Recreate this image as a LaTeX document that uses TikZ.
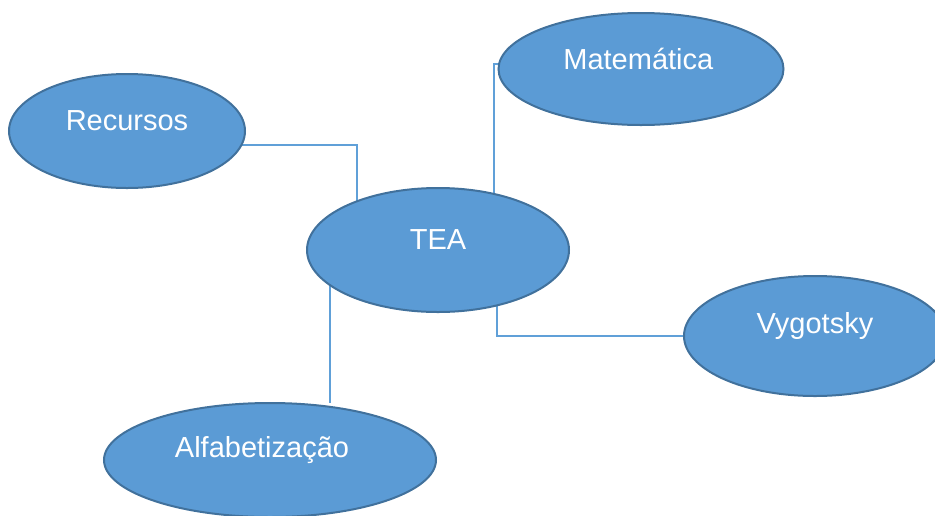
\documentclass[tikz,border=0pt]{standalone}
\usepackage{fontspec}
\setmainfont{Liberation Sans}
\usetikzlibrary{shapes.geometric,backgrounds}
\definecolor{bubblefill}{RGB}{91,155,213}
\definecolor{bubbleedge}{RGB}{65,113,156}
\definecolor{linkblue}{RGB}{96,160,216}
\begin{document}
\begin{tikzpicture}[x=0.75pt,y=-0.75pt,
  bubble/.style={ellipse,draw=bubbleedge,fill=bubblefill,line width=1.5pt,inner sep=0pt,outer sep=0pt},
  word/.style={text=white,yshift=7.5pt,inner sep=0pt,font=\fontsize{21.75}{26}\selectfont},
  link/.style={draw=linkblue,line width=1.5pt}]
  \clip (0,0) rectangle (935,515);
  % Bubbles
  \node[bubble,minimum width=177pt,minimum height=85.5pt,label={[word]center:Recursos}] (rec) at (127,131) {};
  \node[bubble,minimum width=213.75pt,minimum height=84pt,label={[word,xshift=-2pt]center:Matemática}] (mat) at (641,69) {};
  \node[bubble,minimum width=196.5pt,minimum height=93pt,label={[word]center:TEA}] (tea) at (438,250) {};
  \node[bubble,minimum width=196.5pt,minimum height=90pt,label={[word]center:Vygotsky}] (vyg) at (815,336) {};
  \node[bubble,minimum width=249pt,minimum height=85.5pt,label={[word,xshift=-6pt]center:Alfabetização}] (alf) at (270,460) {};
  % Connectors, behind the bubbles
  \begin{scope}[on background layer]
    \draw[link] (rec.-7) -| (tea.149);
    \draw[link] (mat.178) -| (tea.45);
    \draw[link] (vyg.west) -| (tea.-43);
    \draw[link] (tea.-162) -- (tea.-162 |- alf.north);
  \end{scope}
\end{tikzpicture}
\end{document}
